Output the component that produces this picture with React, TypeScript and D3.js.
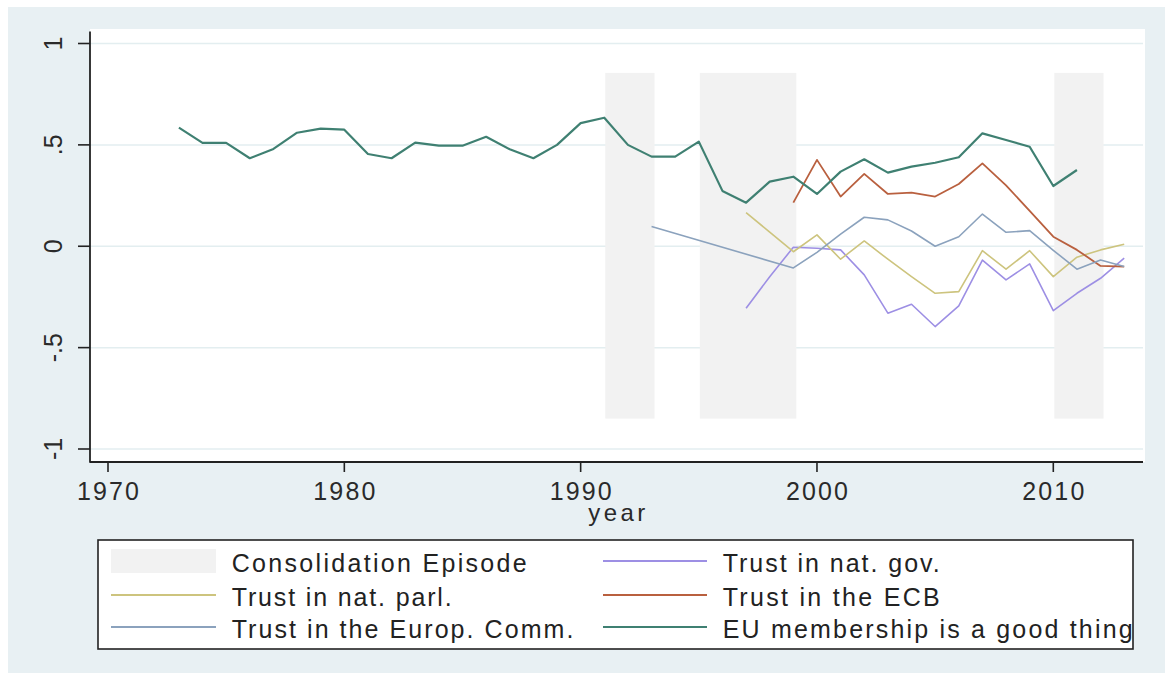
import React from "react";
import * as d3 from "d3";

// ---- data ----
const xTicks = [1970, 1980, 1990, 2000, 2010];
const yTicks = [1, 0.5, 0, -0.5, -1];
const yTickLabels = ["1", ".5", "0", "-.5", "-1"];

const episodeStarts = [1991, 1995, 2010];
const episodeEnds = [1993, 1999, 2012];
const episodeLow = -0.85;
const episodeHigh = 0.855;

const euYears = [1973, 1974, 1975, 1976, 1977, 1978, 1979, 1980, 1981, 1982, 1983, 1984, 1985, 1986, 1987, 1988, 1989, 1990, 1991, 1992, 1993, 1994, 1995, 1996, 1997, 1998, 1999, 2000, 2001, 2002, 2003, 2004, 2005, 2006, 2007, 2008, 2009, 2010, 2011];
const euValues = [0.585, 0.51, 0.51, 0.434, 0.48, 0.56, 0.58, 0.575, 0.455, 0.434, 0.511, 0.496, 0.496, 0.54, 0.478, 0.434, 0.5, 0.607, 0.634, 0.5, 0.442, 0.442, 0.516, 0.273, 0.215, 0.319, 0.343, 0.258, 0.368, 0.429, 0.363, 0.393, 0.412, 0.439, 0.557, 0.524, 0.491, 0.297, 0.376];

const ecbYears = [1999, 2000, 2001, 2002, 2003, 2004, 2005, 2006, 2007, 2008, 2009, 2010, 2011, 2012, 2013];
const ecbValues = [0.215, 0.426, 0.245, 0.357, 0.258, 0.264, 0.245, 0.307, 0.409, 0.3, 0.175, 0.047, -0.018, -0.097, -0.1];

const ecYears = [1993, 1999, 2000, 2001, 2002, 2003, 2004, 2005, 2006, 2007, 2008, 2009, 2010, 2011, 2012, 2013];
const ecValues = [0.097, -0.107, -0.03, 0.06, 0.143, 0.13, 0.075, 0.0, 0.047, 0.159, 0.069, 0.077, -0.02, -0.113, -0.068, -0.1];

const parlYears = [1997, 1998, 1999, 2000, 2001, 2002, 2003, 2004, 2005, 2006, 2007, 2008, 2009, 2010, 2011, 2012, 2013];
const parlValues = [0.166, 0.07, -0.027, 0.056, -0.064, 0.026, -0.064, -0.15, -0.232, -0.224, -0.022, -0.113, -0.022, -0.15, -0.054, -0.018, 0.01];

const govYears = [1997, 1998, 1999, 2000, 2001, 2002, 2003, 2004, 2005, 2006, 2007, 2008, 2009, 2010, 2011, 2012, 2013];
const govValues = [-0.306, -0.15, -0.005, -0.01, -0.018, -0.141, -0.33, -0.286, -0.396, -0.294, -0.068, -0.166, -0.087, -0.318, -0.232, -0.158, -0.059];

const seriesNames = ["Trust in nat. gov.", "Trust in nat. parl.", "Trust in the ECB", "Trust in the Europ. Comm.", "EU membership is a good thing"];
const seriesColors = ["#9d8fe4", "#cdc47e", "#b9603f", "#8ba2bd", "#3f8072"];
const seriesWidths = [1.6, 1.6, 1.8, 1.6, 2.2];
const seriesYears = [govYears, parlYears, ecbYears, ecYears, euYears];
const seriesValues = [govValues, parlValues, ecbValues, ecValues, euValues];

const episodeLabel = "Consolidation Episode";
const xTitle = "year";

const FONT = "'Liberation Sans', Arial, Helvetica, sans-serif";

export default function App() {
  const W = 1165, H = 673;
  const plot = { left: 90, right: 1145, top: 29, bottom: 462 };
  const x = d3.scaleLinear().domain([1970, 2010]).range([108, 1053.3]);
  const y = d3.scaleLinear().domain([-1, 1]).range([449, 43.5]);

  const line = d3.line<[number, number]>().x((d) => x(d[0])).y((d) => y(d[1]));

  // legend layout
  const legend = { x0: 98, y0: 540, x1: 1133, y1: 649 };
  const rowY = [561, 595, 627];
  const col1 = { sx0: 111, sx1: 216, tx: 231.7 };
  const col2 = { sx0: 603, sx1: 707, tx: 722.7 };
  const textLens: Record<string, number> = {
    "Consolidation Episode": 295,
    "Trust in nat. parl.": 220,
    "Trust in the Europ. Comm.": 341.7,
    "Trust in nat. gov.": 217,
    "Trust in the ECB": 217,
    "EU membership is a good thing": 410,
  };
  // legend order: col1: episode, parl, ec ; col2: gov, ecb, eu
  const col1Series = [null, 1, 3];
  const col2Series = [0, 2, 4];

  return (
    <>
      <style>{`body{margin:0;overflow:hidden;background:#fff}`}</style>
      <svg width={W} height={H} style={{ display: "block" }} fontFamily={FONT}>
        <rect x={0} y={0} width={W} height={H} fill="#ffffff" />
        <rect x={8} y={7} width={W - 8} height={H - 7} fill="#e8f0f3" />
        <rect x={plot.left} y={plot.top} width={plot.right - plot.left} height={plot.bottom - plot.top} fill="#ffffff" />

        {/* grid lines */}
        {yTicks.map((t) => (
          <line key={"g" + t} x1={plot.left} x2={plot.right - 2} y1={y(t)} y2={y(t)} stroke="#e3eef0" strokeWidth={1.5} />
        ))}

        {/* consolidation episodes */}
        {episodeStarts.map((s, i) => (
          <rect
            key={"ep" + i}
            x={x(s) + 1}
            y={y(episodeHigh)}
            width={x(episodeEnds[i]) - x(s) + 2}
            height={y(episodeLow) - y(episodeHigh)}
            fill="#f2f2f2"
          />
        ))}

        {/* series */}
        {seriesYears.map((yrs, i) => (
          <path
            key={"s" + i}
            d={line(yrs.map((yr, j) => [yr, seriesValues[i][j]] as [number, number])) || ""}
            fill="none"
            stroke={seriesColors[i]}
            strokeWidth={seriesWidths[i]}
            strokeLinejoin="round"
          />
        ))}

        {/* axes */}
        <line x1={plot.left} x2={plot.left} y1={31.5} y2={plot.bottom + 0.75} stroke="#222" strokeWidth={1.8} />
        <line x1={plot.left} x2={1143} y1={plot.bottom} y2={plot.bottom} stroke="#222" strokeWidth={1.8} />
        {yTicks.map((t, i) => (
          <g key={"yt" + t}>
            <line x1={78} x2={plot.left} y1={y(t)} y2={y(t)} stroke="#222" strokeWidth={1.6} />
            <text
              transform={`translate(62,${y(t)}) rotate(-90)`}
              textAnchor="middle"
              fontSize={25}
              fill="#2a2a2a"
            >
              {yTickLabels[i]}
            </text>
          </g>
        ))}
        {xTicks.map((t) => (
          <g key={"xt" + t}>
            <line x1={x(t)} x2={x(t)} y1={plot.bottom} y2={plot.bottom + 10} stroke="#222" strokeWidth={1.6} />
            <text x={x(t)} y={500} textAnchor="middle" fontSize={25} fill="#2a2a2a" textLength={62} lengthAdjust="spacing">
              {String(t)}
            </text>
          </g>
        ))}
        <text x={616.7} y={520.5} textAnchor="middle" fontSize={24} fill="#2a2a2a" textLength={57} lengthAdjust="spacing">
          {xTitle}
        </text>

        {/* legend */}
        <rect x={legend.x0} y={legend.y0} width={legend.x1 - legend.x0} height={legend.y1 - legend.y0} fill="#ffffff" stroke="#222" strokeWidth={1.6} />
        {rowY.map((ry, r) => {
          const si = col1Series[r];
          const label = si === null ? episodeLabel : seriesNames[si];
          return (
            <g key={"l1" + r}>
              {si === null ? (
                <rect x={col1.sx0} y={ry - 12} width={col1.sx1 - col1.sx0} height={24} fill="#f2f2f2" />
              ) : (
                <line x1={col1.sx0} x2={col1.sx1} y1={ry} y2={ry} stroke={seriesColors[si]} strokeWidth={2} />
              )}
              <text x={col1.tx} y={ry + 10.5} fontSize={25} fill="#222" textLength={textLens[label]} lengthAdjust="spacing">
                {label}
              </text>
            </g>
          );
        })}
        {rowY.map((ry, r) => {
          const si = col2Series[r];
          const label = seriesNames[si];
          return (
            <g key={"l2" + r}>
              <line x1={col2.sx0} x2={col2.sx1} y1={ry} y2={ry} stroke={seriesColors[si]} strokeWidth={2} />
              <text x={col2.tx} y={ry + 10.5} fontSize={25} fill="#222" textLength={textLens[label]} lengthAdjust="spacing">
                {label}
              </text>
            </g>
          );
        })}
      </svg>
    </>
  );
}
